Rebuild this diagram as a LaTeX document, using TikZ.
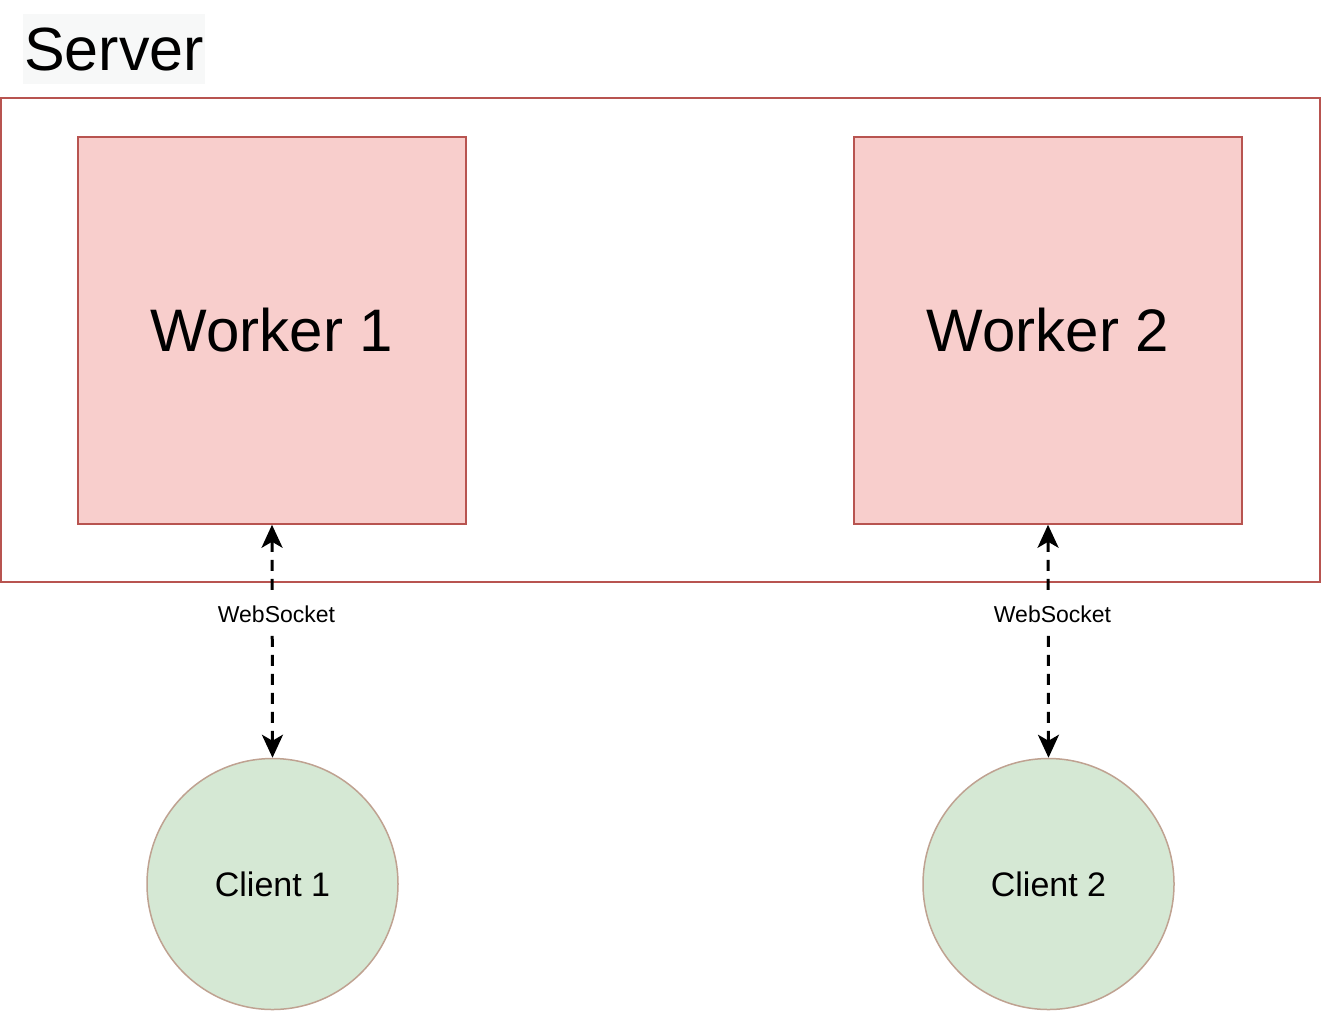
\documentclass[tikz,border=0pt]{standalone}
\usepackage{fontspec}
\setmainfont{Liberation Sans}
\usetikzlibrary{arrows.meta}
\definecolor{wfill}{HTML}{F8CECC}
\definecolor{wstroke}{HTML}{B85450}
\definecolor{cfill}{HTML}{D5E8D4}
\definecolor{cstroke}{HTML}{BFA291}
\definecolor{lblbg}{HTML}{F7F8F8}
\tikzset{
  worker/.style={draw=wstroke, fill=wfill, line width=1.5pt, minimum width=388pt, minimum height=387pt, inner sep=0pt, font=\fontsize{60}{72}\selectfont},
  client/.style={circle, draw=cstroke, fill=cfill, line width=1.5pt, minimum size=251pt, inner sep=0pt, font=\fontsize{34}{40}\selectfont},
  serverbox/.style={draw=wstroke, line width=1.5pt},
  wsconn/.style={line width=3pt, dash pattern=on 11pt off 8pt, {Stealth[length=23pt,width=21pt,inset=6pt]}-{Stealth[length=23pt,width=21pt,inset=6pt]}},
  wslabel/.style={fill=white, inner xsep=2pt, inner ysep=9pt, font=\fontsize{23}{27}\selectfont},
}
\begin{document}
\begin{tikzpicture}[x=1pt,y=-1pt]
\useasboundingbox (0,0) rectangle (1321,1013);
\draw[serverbox] (1,98) rectangle (1320,582);
\node[fill=lblbg, minimum width=182pt, minimum height=70pt, inner sep=0pt, font=\fontsize{61}{73}\selectfont] (srv) at (114,49) {Server};
\node[worker] (w1) at (272,330.5) {Worker 1};
\node[worker] (w2) at (1048,330.5) {Worker 2};
\node[client] (c1) at (272.5,884) {Client 1};
\node[client] (c2) at (1048.5,884) {Client 2};
\draw[wsconn] (w1.south) -- (c1.north);
\draw[wsconn] (w2.south) -- (c2.north);
\node[wslabel] (l1) at (276.5,614) {WebSocket};
\node[wslabel] (l2) at (1052.5,614) {WebSocket};
\end{tikzpicture}
\end{document}
